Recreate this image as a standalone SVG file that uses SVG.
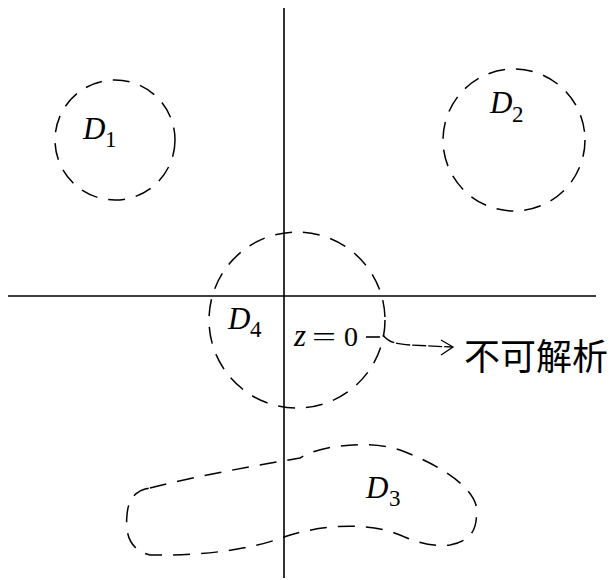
<svg xmlns="http://www.w3.org/2000/svg" width="613" height="580" viewBox="0 0 613 580">
<style>
.region{fill:none;stroke:#000;stroke-width:1.5;stroke-dasharray:17 11}
.axis{stroke:#000;stroke-width:1.6;fill:none}
.lbl{font-family:"Liberation Serif",serif;font-style:italic;font-size:31px;fill:#000}
.sub{font-family:"Liberation Serif",serif;font-size:23px;fill:#000}
.num{font-family:"Liberation Serif",serif;font-size:28px;fill:#000}
.cjk{font-family:"Noto Sans CJK SC",sans-serif;font-size:36px;fill:#000}
</style>
<rect width="613" height="580" fill="#fff"/>
<g id="axes">
<line class="axis" x1="284" y1="8" x2="284" y2="578"/>
<line class="axis" x1="8" y1="296" x2="596" y2="296"/>
</g>
<g id="D1">
<circle class="region" cx="115" cy="140" r="60"/>
<text class="lbl" x="83" y="139">D</text><text class="sub" x="105" y="147">1</text>
</g>
<g id="D2">
<circle class="region" cx="514" cy="140" r="71"/>
<text class="lbl" x="490" y="113">D</text><text class="sub" x="512" y="122">2</text>
</g>
<g id="D4">
<circle class="region" cx="297" cy="320" r="88"/>
<text class="lbl" x="228" y="329">D</text><text class="sub" x="250" y="337">4</text>
<text class="lbl" x="294" y="346">z</text>
<text class="num" x="312" y="346" textLength="24" lengthAdjust="spacingAndGlyphs">=</text>
<text class="num" x="344" y="346">0</text>
</g>
<g id="D3">
<path class="region" d="M150 488 C200 475,260 465,300 458 C320 445,370 440,400 450 C440 465,470 485,476 505 C478 525,475 540,450 545 C420 548,405 535,385 530 C350 522,310 528,284 537 C250 550,200 556,150 555 C130 550,125 535,127 515 C128 500,135 490,150 488 Z"/>
<text class="lbl" x="366" y="498">D</text><text class="sub" x="389" y="506">3</text>
</g>
<g id="connectors">
<line class="axis" x1="366" y1="337" x2="380" y2="337" stroke-width="1.3"/>
<path d="M383 335 C388 342,395 344,410 345 L452 347" fill="none" stroke="#000" stroke-width="1.3" stroke-dasharray="14 2"/>
<path d="M441 340 L453 347 L441 355" fill="none" stroke="#000" stroke-width="1.3"/>
</g>
<g id="note">
<text class="cjk" x="464" y="370">不可解析</text>
</g>
</svg>
